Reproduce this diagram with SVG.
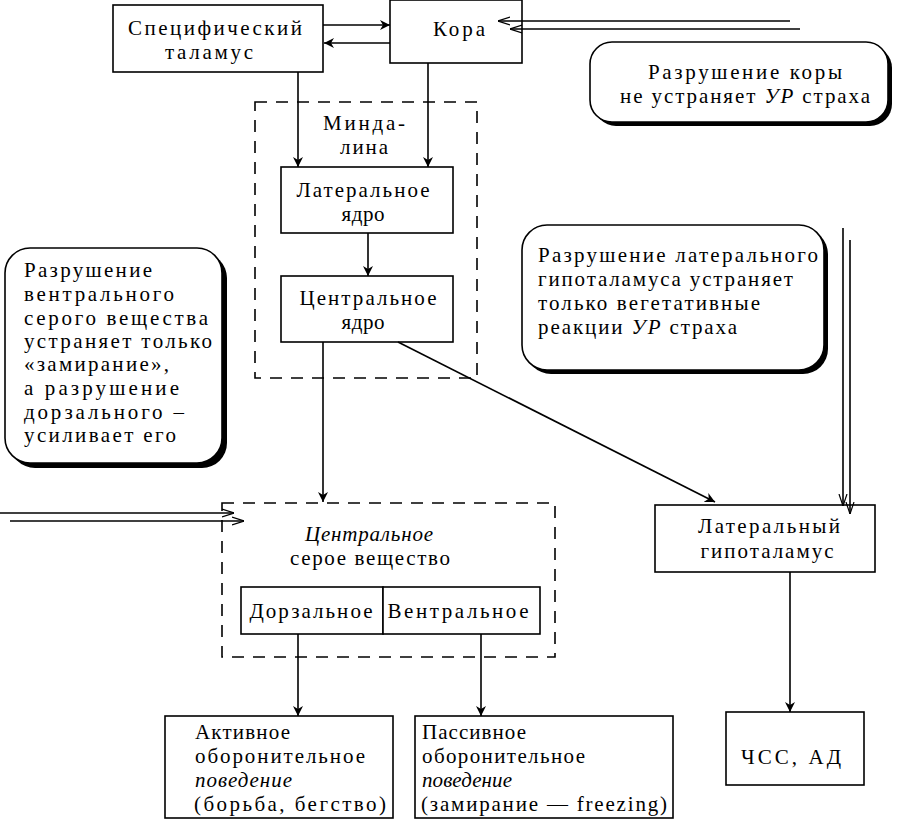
<svg xmlns="http://www.w3.org/2000/svg" width="898" height="831" viewBox="0 0 898 831" font-family="Liberation Serif, Noto Serif, DejaVu Serif, Times New Roman, serif">
<style>
text{font-family:'Liberation Serif','Noto Serif','DejaVu Serif','Times New Roman',Times,serif;font-size:21px;fill:#000}
.c{text-anchor:middle}
.i{font-style:italic}
.box{fill:#fff;stroke:#000;stroke-width:1.6}
.dash{fill:none;stroke:#000;stroke-width:1.6;stroke-dasharray:12 9}
.ln{fill:none;stroke:#000;stroke-width:1.6}
.sh{fill:#000}
</style>
<defs>
<marker id="a" viewBox="0 0 10 10" refX="10" refY="5" markerWidth="10" markerHeight="10" markerUnits="userSpaceOnUse" orient="auto">
<path d="M0,0 L10,5 L0,10 L3,5 Z" fill="#000"/>
</marker>
<marker id="o" viewBox="0 0 12 10" refX="12" refY="5" markerWidth="12" markerHeight="10" markerUnits="userSpaceOnUse" orient="auto">
<path d="M0,1 L12,5 L0,9" fill="none" stroke="#000" stroke-width="1.2"/>
</marker>
</defs>

<g id="thalamus">
<rect class="box" x="113" y="5" width="210" height="67"/>
<text class="c" x="215" y="35" textLength="174" lengthAdjust="spacing">Специфический</text>
<text class="c" x="209" y="59" textLength="88" lengthAdjust="spacing">таламус</text>
</g>

<g id="cortex">
<rect class="box" x="390" y="0" width="132" height="63"/>
<text class="c" x="459" y="36" textLength="52" lengthAdjust="spacing">Кора</text>
</g>

<g id="note-cortex">
<rect class="sh" x="594" y="46" width="298" height="80" rx="22"/>
<rect class="box" x="590" y="42" width="298" height="80" rx="22"/>
<text class="c" x="745" y="79" textLength="194" lengthAdjust="spacing">Разрушение коры</text>
<text class="c" x="745" y="103" textLength="250" lengthAdjust="spacing">не  устраняет <tspan class="i">УР</tspan> страха</text>
</g>

<g id="amygdala">
<rect class="dash" x="255" y="102" width="222" height="276"/>
<text class="c" x="364" y="130" textLength="82" lengthAdjust="spacing">Минда-</text>
<text class="c" x="364" y="154" textLength="48" lengthAdjust="spacing">лина</text>
</g>

<g id="lateral-nucleus">
<rect class="box" x="281" y="167" width="172" height="66"/>
<text class="c" x="363" y="197" textLength="133" lengthAdjust="spacing">Латеральное</text>
<text class="c" x="363" y="221" textLength="43" lengthAdjust="spacing">ядро</text>
</g>

<g id="central-nucleus">
<rect class="box" x="281" y="276" width="172" height="66"/>
<text class="c" x="368" y="305" textLength="137" lengthAdjust="spacing">Центральное</text>
<text class="c" x="363" y="329" textLength="43" lengthAdjust="spacing">ядро</text>
</g>

<g id="note-pag">
<rect class="sh" x="10" y="253" width="217" height="215" rx="25"/>
<rect class="box" x="5" y="248" width="217" height="215" rx="25"/>
<text x="24" y="277" textLength="128" lengthAdjust="spacing">Разрушение</text>
<text x="24" y="301" textLength="150" lengthAdjust="spacing">вентрального</text>
<text x="24" y="325" textLength="184" lengthAdjust="spacing">серого вещества</text>
<text x="24" y="348" textLength="188" lengthAdjust="spacing">устраняет только</text>
<text x="24" y="371" textLength="145" lengthAdjust="spacing">«замирание»,</text>
<text x="24" y="395" textLength="155" lengthAdjust="spacing">а разрушение</text>
<text x="24" y="419" textLength="160" lengthAdjust="spacing">дорзального –</text>
<text x="24" y="442" textLength="152" lengthAdjust="spacing">усиливает его</text>
</g>

<g id="note-hypothalamus">
<rect class="sh" x="526" y="229" width="302" height="145" rx="25"/>
<rect class="box" x="522" y="225" width="302" height="145" rx="25"/>
<text x="538" y="262" textLength="280" lengthAdjust="spacing">Разрушение латерального</text>
<text x="538" y="286" textLength="255" lengthAdjust="spacing">гипоталамуса устраняет</text>
<text x="538" y="310" textLength="222" lengthAdjust="spacing">только вегетативные</text>
<text x="538" y="334" textLength="199" lengthAdjust="spacing">реакции  <tspan class="i">УР</tspan> страха</text>
</g>

<g id="pag">
<rect class="dash" x="222" y="503" width="333" height="154"/>
<text class="c i" x="369" y="541" textLength="128" lengthAdjust="spacing">Центральное</text>
<text class="c" x="370" y="565" textLength="160" lengthAdjust="spacing">серое вещество</text>
</g>

<g id="dorsal">
<rect class="box" x="241" y="587" width="142" height="47"/>
<text class="c" x="311" y="618" textLength="123" lengthAdjust="spacing">Дорзальное</text>
</g>

<g id="ventral">
<rect class="box" x="383" y="587" width="157" height="47"/>
<text class="c" x="458" y="618" textLength="141" lengthAdjust="spacing">Вентральное</text>
</g>

<g id="lat-hypothalamus">
<rect class="box" x="655" y="505" width="220" height="67"/>
<text class="c" x="769" y="533" textLength="142" lengthAdjust="spacing">Латеральный</text>
<text class="c" x="767" y="558" textLength="133" lengthAdjust="spacing">гипоталамус</text>
</g>

<g id="hr-bp">
<rect class="box" x="726" y="712" width="138" height="73"/>
<text class="c" x="791" y="764" textLength="100" lengthAdjust="spacing">ЧСС,  АД</text>
</g>

<g id="active">
<rect class="box" x="165" y="716" width="228" height="102"/>
<text x="195" y="739" textLength="95" lengthAdjust="spacing">Активное</text>
<text x="195" y="763" textLength="170" lengthAdjust="spacing">оборонительное</text>
<text class="i" x="195" y="787" textLength="97" lengthAdjust="spacing">поведение</text>
<text x="194" y="811" textLength="192" lengthAdjust="spacing">(борьба, бегство)</text>
</g>

<g id="passive">
<rect class="box" x="415" y="716" width="258" height="102"/>
<text x="422" y="739" textLength="104" lengthAdjust="spacing">Пассивное</text>
<text x="422" y="763" textLength="163" lengthAdjust="spacing">оборонительное</text>
<text class="i" x="422" y="787" textLength="90" lengthAdjust="spacing">поведение</text>
<text x="421" y="811" textLength="246" lengthAdjust="spacing">(замирание — freezing)</text>
</g>

<g id="connectors">
<line class="ln" x1="323" y1="25" x2="390" y2="25" marker-end="url(#a)"/>
<line class="ln" x1="390" y1="43" x2="324" y2="43" marker-end="url(#a)"/>
<line class="ln" x1="790" y1="21" x2="498" y2="21" marker-end="url(#o)"/>
<line class="ln" x1="800" y1="29" x2="510" y2="29" marker-end="url(#o)"/>
<line class="ln" x1="298" y1="72" x2="298" y2="167" marker-end="url(#a)"/>
<line class="ln" x1="428" y1="63" x2="428" y2="167" marker-end="url(#a)"/>
<line class="ln" x1="368" y1="233" x2="368" y2="276" marker-end="url(#a)"/>
<line class="ln" x1="323" y1="342" x2="323" y2="502" marker-end="url(#a)"/>
<line class="ln" x1="398" y1="342" x2="715" y2="502" marker-end="url(#a)"/>
<line class="ln" x1="0" y1="513" x2="234" y2="513" marker-end="url(#o)"/>
<line class="ln" x1="10" y1="521" x2="244" y2="521" marker-end="url(#o)"/>
<line class="ln" x1="843" y1="228" x2="843" y2="506" marker-end="url(#o)"/>
<line class="ln" x1="850" y1="240" x2="850" y2="514" marker-end="url(#o)"/>
<line class="ln" x1="298" y1="634" x2="298" y2="716" marker-end="url(#a)"/>
<line class="ln" x1="481" y1="634" x2="481" y2="716" marker-end="url(#a)"/>
<line class="ln" x1="790" y1="572" x2="790" y2="712" marker-end="url(#a)"/>
</g>
</svg>
